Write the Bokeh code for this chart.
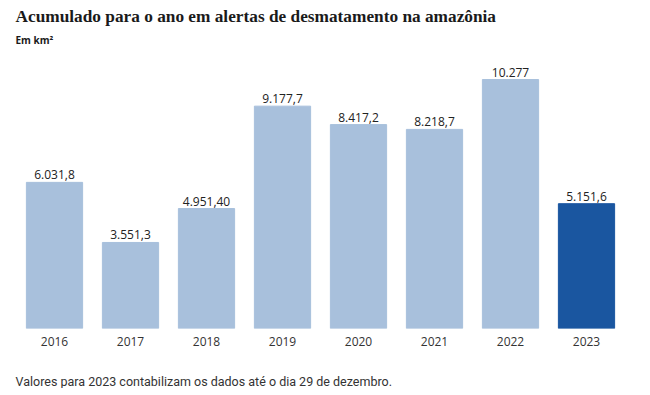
from bokeh.plotting import figure
from bokeh.models import ColumnDataSource, Title, Range1d
from bokeh.core.properties import value
from bokeh.embed import file_html
from bokeh.resources import INLINE

years = ["2016", "2017", "2018", "2019", "2020", "2021", "2022", "2023"]
values = [6031.8, 3551.3, 4951.40, 9177.7, 8417.2, 8218.7, 10277, 5151.6]
value_labels = ["6.031,8", "3.551,3", "4.951,40", "9.177,7", "8.417,2", "8.218,7", "10.277", "5.151,6"]
colors = ["#a8c0dc"] * 7 + ["#1a56a0"]

title_text = "Acumulado para o ano em alertas de desmatamento na amazônia"
subtitle_text = "Em km²"
note_text = "Valores para 2023 contabilizam os dados até o dia 29 de dezembro."

src = ColumnDataSource(dict(x=years, top=values, lab=value_labels, color=colors))

p = figure(x_range=years, y_range=Range1d(0, 11640), width=634, height=388,
           output_backend="svg", toolbar_location=None,
           min_border_left=16, min_border_right=10, min_border_top=10, min_border_bottom=10)
p.vbar(x="x", top="top", width=0.74, color="color", source=src)
p.text(x="x", y="top", text="lab", source=src, text_align="center", text_baseline="bottom",
       y_offset=-3, text_font_size="12px", text_color="#222222", text_font=value("Open Sans"))

p.yaxis.visible = False
p.grid.visible = False
p.outline_line_color = None
p.xaxis.axis_line_color = None
p.xaxis.major_tick_line_color = None
p.xaxis.minor_tick_line_color = None
p.xaxis.major_tick_out = 0
p.xaxis.major_tick_in = 0
p.xaxis.major_label_standoff = 8
p.xaxis.major_label_text_font_size = "12px"
p.xaxis.major_label_text_color = "#333333"
p.xaxis.major_label_text_font = "Open Sans"

p.title.text = title_text
p.title.text_font = "Liberation Serif"
p.title.text_font_style = "bold"
p.title.text_font_size = "17.3px"
p.title.text_color = "#1a1a1a"
p.title.align = "left"
p.title.offset = -1
p.title.standoff = 9

p.add_layout(Title(text=subtitle_text, text_font="Open Sans", text_font_style="bold",
                   text_font_size="10px", text_color="#1a1a1a", align="left", offset=-1,
                   standoff=0), "above")
p.add_layout(Title(text="\u00a0", text_font="Open Sans", text_font_size="8px",
                   align="left", standoff=10), "below")
p.add_layout(Title(text=note_text, text_font="Roboto",
                   text_font_style="normal", text_font_size="12.5px", text_color="#333333",
                   align="left", offset=-1, standoff=0), "below")

open("out.html", "w").write(file_html(p, INLINE))
